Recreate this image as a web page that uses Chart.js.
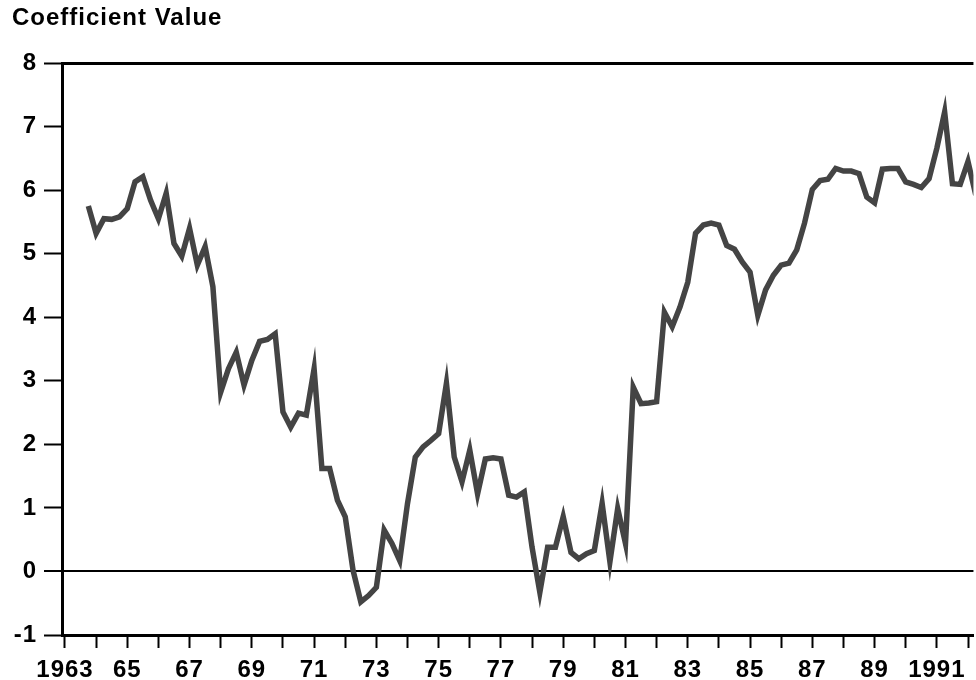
<!DOCTYPE html>
<html>
<head>
<meta charset="utf-8">
<script src="https://cdn.jsdelivr.net/npm/chart.js@4.4.1/dist/chart.umd.min.js"></script>
<style>
  html, body { margin: 0; padding: 0; background: #fff; overflow: hidden; }
  #wrap { width: 976px; height: 680px; }
</style>
</head>
<body>
<div id="wrap"><canvas id="coefChart"></canvas></div>
<script>
// Quarterly coefficient values, first quarter is 1963 Q4
const firstQuarter = 1963.75;
const coefValues = [
    5.75, 5.32, 5.55, 5.54, 5.58, 5.71, 6.13, 6.21, 5.84, 5.55,
    5.95, 5.16, 4.96, 5.40, 4.82, 5.11, 4.48, 2.82, 3.19, 3.45,
    2.93, 3.32, 3.62, 3.65, 3.74, 2.51, 2.27, 2.49, 2.46, 3.19,
    1.62, 1.62, 1.12, 0.86, 0.02, -0.48, -0.38, -0.25, 0.65, 0.44,
    0.17, 1.07, 1.80, 1.96, 2.06, 2.17, 2.96, 1.80, 1.41, 1.91,
    1.22, 1.77, 1.79, 1.77, 1.20, 1.17, 1.25, 0.38, -0.33, 0.38,
    0.38, 0.86, 0.30, 0.20, 0.28, 0.33, 1.07, 0.15, 0.99, 0.44,
    2.90, 2.64, 2.65, 2.67, 4.08, 3.85, 4.16, 4.55, 5.32, 5.45,
    5.48, 5.45, 5.13, 5.07, 4.87, 4.71, 4.03, 4.43, 4.66, 4.82,
    4.85, 5.06, 5.48, 6.01, 6.15, 6.17, 6.34, 6.30, 6.30, 6.26,
    5.89, 5.80, 6.33, 6.34, 6.34, 6.13, 6.09, 6.04, 6.18, 6.66,
    7.23, 6.10, 6.09, 6.45, 5.92
];

// Year tick labels (every other year is labelled)
const labelledYears = [1963, 1965, 1967, 1969, 1971, 1973, 1975, 1977, 1979, 1981, 1983, 1985, 1987, 1989, 1991];
const yearLabels = ['1963', '65', '67', '69', '71', '73', '75', '77', '79', '81', '83', '85', '87', '89', '1991'];
const yTicks = [-1, 0, 1, 2, 3, 4, 5, 6, 7, 8];
const ruledValues = [-1, 0, 8];

const points = coefValues.map((v, i) => ({ x: firstQuarter + i * 0.25, y: v }));

const fontFamily = "'Liberation Sans', Arial, sans-serif";
const tickFont = { family: fontFamily, size: 24, weight: 'bold' };

// the printed lettering is a bit wider than Arial, so space the letters out
const letterSpacingPlugin = {
    id: 'letterSpacing',
    beforeLayout(chart) { chart.ctx.letterSpacing = '1px'; },
    beforeDraw(chart) { chart.ctx.letterSpacing = '1px'; }
};

new Chart(document.getElementById('coefChart'), {
    type: 'line',
    data: {
        datasets: [{
            label: 'Coefficient Value',
            data: points,
            borderColor: '#444444',
            borderWidth: 5.5,
            pointRadius: 0,
            tension: 0,
            borderJoinStyle: 'miter'
        }]
    },
    plugins: [letterSpacingPlugin],
    options: {
        responsive: true,
        maintainAspectRatio: false,
        animation: false,
        layout: { padding: { left: 12, right: 0, top: 0, bottom: 0 } },
        plugins: {
            legend: { display: false },
            tooltip: { enabled: false },
            title: {
                display: true,
                text: 'Coefficient Value',
                align: 'start',
                color: '#000',
                font: { family: fontFamily, size: 24, weight: 'bold' },
                padding: { top: 4, bottom: 30.2 }
            }
        },
        scales: {
            x: {
                type: 'linear',
                min: 1962.904,
                max: 1992.175,
                afterFit: (scale) => { scale.height = 45; },
                border: { display: true, color: '#000', width: 3 },
                grid: {
                    drawOnChartArea: false,
                    tickLength: 13,
                    tickColor: '#000',
                    tickWidth: 2
                },
                ticks: {
                    stepSize: 1,
                    includeBounds: false,
                    autoSkip: false,
                    maxRotation: 0,
                    color: '#000',
                    padding: 8,
                    font: tickFont,
                    callback: (value) => {
                        const k = labelledYears.indexOf(Math.round(value));
                        return k >= 0 ? yearLabels[k] : '';
                    }
                }
            },
            y: {
                min: yTicks[0],
                max: yTicks[yTicks.length - 1],
                afterFit: (scale) => { scale.width = 50; },
                border: { display: true, color: '#000', width: 3 },
                grid: {
                    drawOnChartArea: true,
                    tickLength: 18,
                    tickColor: '#000',
                    tickWidth: 2,
                    color: (ctx) => ruledValues.includes(ctx.tick && ctx.tick.value) ? '#000' : 'rgba(0,0,0,0)',
                    lineWidth: (ctx) => (ctx.tick && ctx.tick.value === 0) ? 2 : 3
                },
                ticks: {
                    stepSize: 1,
                    color: '#000',
                    padding: 7,
                    font: tickFont
                }
            }
        }
    }
});
</script>
</body>
</html>
